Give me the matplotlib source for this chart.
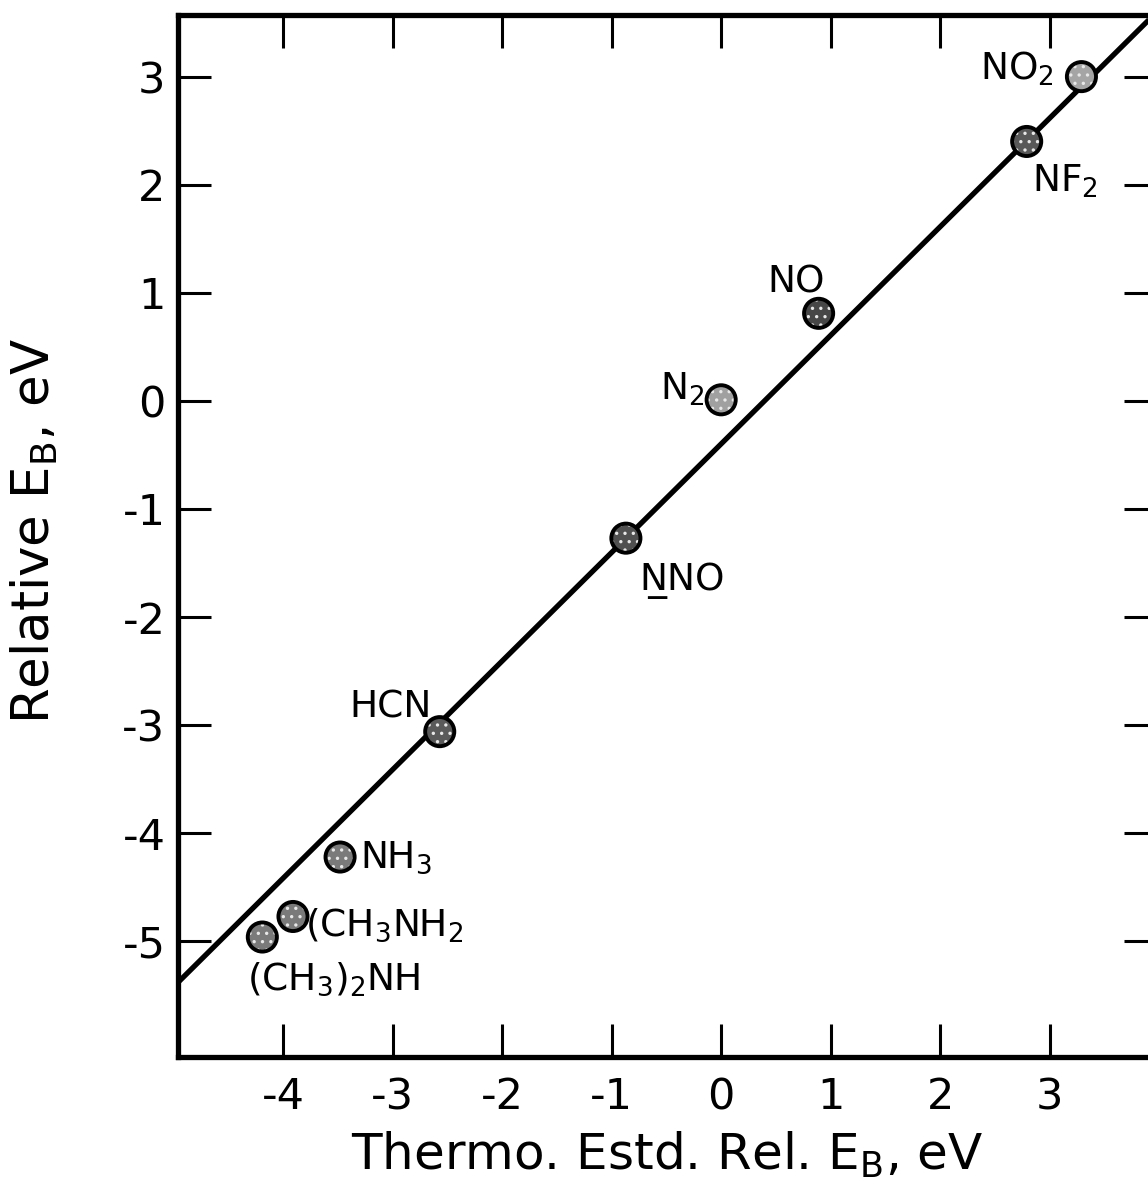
import matplotlib
matplotlib.use('Agg')
import matplotlib.pyplot as plt
import numpy as np

# datos
moleculas = [r'(CH$_3$)$_2$NH', r'(CH$_3$NH$_2$', r'NH$_3$', 'HCN', 'N\u0332NO',
             r'N$_2$', 'NO', r'NF$_2$', r'NO$_2$']
x_thermo = [-4.19, -3.91, -3.48, -2.57, -0.87, 0.00, 0.89, 2.79, 3.29]
y_rel    = [-4.96, -4.77, -4.22, -3.06, -1.27, 0.01, 0.81, 2.40, 3.00]
gris     = ['#7a7a7a', '#7a7a7a', '#7a7a7a', '#5a5a5a', '#505050',
            '#a0a0a0', '#474747', '#585858', '#a5a5a5']

# recta de ajuste
fit_x = [-4.96, 3.98]
fit_y = [-5.38, 3.60]

xticks = [-4, -3, -2, -1, 0, 1, 2, 3]
yticks = [-5, -4, -3, -2, -1, 0, 1, 2, 3]

# posicion de cada etiqueta (offset en pt, alineacion)
pos_lab = [(-11, -38, 'left'), (9, -14, 'left'), (14, -8, 'left'), (-6, 10, 'right'),
           (10, -37, 'left'), (-12, 0, 'right'), (-16, 15, 'center'), (4, -36, 'left'),
           (-20, -2, 'right')]

plt.rcParams['font.family'] = 'DejaVu Sans'
plt.rcParams['axes.unicode_minus'] = False
plt.rcParams['hatch.linewidth'] = 1.2

fig = plt.figure(figsize=(11.48, 11.93), dpi=100)
ax = fig.add_axes([178/1148, (1193-1057)/1193, (1157-178)/1148, (1057-15)/1193])

ax.plot(fit_x, fit_y, color='black', lw=3.8, solid_capstyle='butt', zorder=2)

for i in range(len(moleculas)):
    # relleno punteado + borde negro
    ax.scatter(x_thermo[i], y_rel[i], s=440, c=gris[i], edgecolors='#e8e8e8',
               linewidths=0, hatch='..', zorder=3)
    ax.scatter(x_thermo[i], y_rel[i], s=440, facecolors='none', edgecolors='black',
               linewidths=2.8, zorder=3)
    dx, dy, ha = pos_lab[i]
    ax.annotate(moleculas[i], (x_thermo[i], y_rel[i]), xytext=(dx, dy),
                textcoords='offset points', ha=ha, va='baseline', fontsize=27, zorder=4)

ax.set_xlim(-4.96, 3.98)
ax.set_ylim(-6.07, 3.57)
ax.set_xticks(xticks)
ax.set_yticks(yticks)
ax.set_xticklabels([str(t) for t in xticks])
ax.set_yticklabels([str(t) for t in yticks])

ax.tick_params(direction='in', length=24, width=2.2, labelsize=31,
               top=True, right=True, labeltop=False, labelright=False)
ax.tick_params(axis='x', pad=14)
ax.tick_params(axis='y', pad=9)
for s in ax.spines.values():
    s.set_linewidth(3.8)

ax.set_xlabel(r'Thermo. Estd. Rel. E$_\mathrm{B}$, eV', fontsize=36, labelpad=8)
ax.set_ylabel(r'Relative E$_\mathrm{B}$, eV', fontsize=37)
ax.yaxis.set_label_coords(-0.12, 0.505)

fig.savefig('out.png', dpi=100)
